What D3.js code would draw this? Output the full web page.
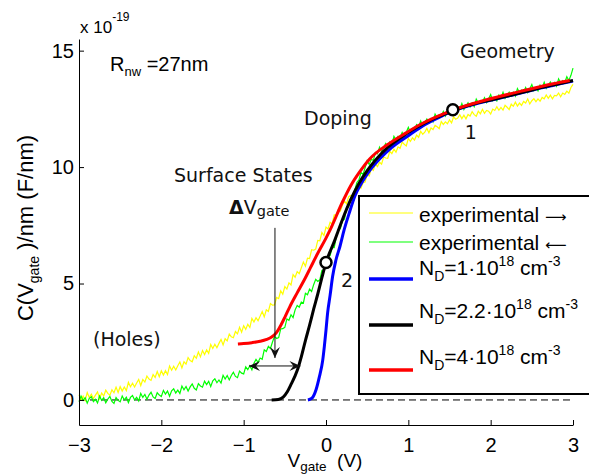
<!DOCTYPE html>
<html><head><meta charset="utf-8">
<script src="https://cdn.jsdelivr.net/npm/d3@7"></script>
<style>
html,body{margin:0;padding:0;background:#fff;}
svg{display:block;}
.hv{font-family:"Liberation Sans",Arial,Helvetica,sans-serif;}
.dj{font-family:"DejaVu Sans",sans-serif;}
</style></head>
<body><svg id="chart" width="589" height="475"></svg>
<script>
// ---------------- data ----------------
const xTicks = [-3, -2, -1, 0, 1, 2, 3];
const yTicks = [0, 5, 10, 15];

// experimental sweeps, sampled every 0.025 V from -3 V to 3 V (units 1e-19 F/nm)
const sweepStart = -3, sweepStep = 0.025;
const expForward = [
  0.22,0.01,0.17,-0.02, 0.32,0.11,0.25,0.06, 0.21,0.35,0.06,0.30, 0.17,0.42,0.28,0.20, 0.44,0.31,0.55,0.32,
  0.57,0.38,0.56,0.40, 0.76,0.57,0.72,0.56, 0.73,0.88,0.62,0.88, 0.77,1.03,0.90,0.84, 1.09,0.97,1.22,1.00,
  1.25,1.07,1.26,1.09, 1.46,1.28,1.45,1.29, 1.47,1.63,1.38,1.64, 1.54,1.82,1.69,1.64, 1.90,1.79,2.06,1.85,
  2.12,1.95,2.15,2.00, 2.38,2.21,2.39,2.24, 2.43,2.60,2.36,2.63, 2.54,2.83,2.71,2.67, 2.94,2.84,3.12,2.91,
  3.19,3.03,3.25,3.11, 3.50,3.35,3.53,3.40, 3.60,3.80,3.57,3.87, 3.80,4.14,4.07,4.08, 4.40,4.35,4.69,4.54,
  4.87,4.76,5.03,4.94, 5.38,5.27,5.51,5.42, 5.67,5.92,5.74,6.09, 6.07,6.45,6.43,6.48, 6.85,6.83,7.19,7.06,
  7.42,7.34,7.63,7.56, 7.95,7.94,8.18,8.11, 8.37,8.54,8.42,8.73, 8.78,8.75,9.02,8.89, 9.20,9.10,9.33,9.36,
  9.69,9.62,9.94,9.86, 10.13,10.02,10.21,10.13, 10.43,10.39,10.38,10.68, 10.58,10.77,10.64,10.87, 10.81,11.07,10.98,10.91,
  11.23,11.10,11.26,11.16, 11.37,11.28,11.54,11.41, 11.50,11.66,11.47,11.68, 11.61,11.79,11.73,11.65, 11.95,11.83,11.94,11.86,
  12.03,11.90,12.16,12.05, 12.10,12.25,12.08,12.23, 12.07,12.26,12.19,12.38, 12.25,12.18,12.40,12.29, 12.48,12.31,12.43,12.40,
  12.28,12.49,12.43,12.59, 12.44,12.56,12.45,12.65, 12.57,12.47,12.70,12.61, 12.79,12.62,12.75,12.65, 12.82,12.75,12.93,12.71,
  12.85,12.94,12.81,12.93, 12.83,12.99,12.93,13.10, 12.95,13.09,12.93,13.08, 13.06,13.18,13.02,13.18, 13.12,13.26,13.17,13.42,
  13.55];
const expReverse = [
  -0.07,0.17,-0.02,0.10, -0.14,0.07,0.14,-0.07, 0.03,-0.13,0.17,-0.02, 0.10,-0.12,0.04,0.15, -0.06,-0.15,0.10,-0.02,
  -0.08,0.17,0.00,0.12, -0.11,0.11,0.19,0.00, 0.11,-0.04,0.28,0.11, 0.24,0.03,0.21,0.33, 0.13,0.06,0.31,0.21,
  0.15,0.41,0.25,0.38, 0.16,0.39,0.48,0.30, 0.42,0.28,0.60,0.44, 0.58,0.38,0.56,0.69, 0.50,0.43,0.70,0.60,
  0.55,0.81,0.66,0.80, 0.58,0.82,0.91,0.74, 0.86,0.73,1.06,0.90, 1.05,0.86,1.05,1.19, 1.01,0.96,1.24,1.15,
  1.12,1.42,1.30,1.47, 1.29,1.58,1.74,1.62, 1.80,1.75,2.15,2.08, 2.30,2.21,2.49,2.73, 2.64,2.68,3.05,3.06,
  3.12,3.48,3.42,3.66, 3.54,3.87,4.06,3.98, 4.20,4.16,4.58,4.52, 4.76,4.66,4.95,5.18, 5.09,5.16,5.56,5.59,
  5.68,6.15,6.20,6.55, 6.54,7.00,7.31,7.36, 7.70,7.76,8.28,8.31, 8.65,8.64,9.02,9.34, 9.45,9.77,9.68,9.97,
  10.28,10.11,10.33,10.29, 10.63,10.57,10.85,10.65, 10.83,11.01,10.88,11.08, 10.96,11.32,11.17,11.32, 11.27,11.49,11.31,11.50,
  11.71,11.48,11.64,11.54, 11.82,11.73,11.98,11.75, 11.90,12.06,11.90,12.08, 11.94,12.28,12.12,12.24, 12.18,12.39,12.19,12.37,
  12.57,12.32,12.46,12.34, 12.60,12.49,12.73,12.47, 12.61,12.76,12.58,12.75, 12.59,12.92,12.75,12.86, 12.79,12.98,12.77,12.93,
  13.11,12.85,12.97,12.84, 13.09,12.97,13.21,12.95, 13.08,13.22,13.05,13.21, 13.05,13.37,13.20,13.31, 13.23,13.42,13.20,13.36,
  13.54,13.28,13.40,13.27, 13.52,13.40,13.64,13.38, 13.51,13.65,13.47,13.63, 13.47,13.79,13.61,13.71, 13.63,13.88,13.72,13.94,
  14.25];

// simulations
const nd1V = [-0.22,-0.17,-0.12,-0.08,-0.04,-0.02,0.00,0.02,0.05,0.08,0.12,0.17,0.22,0.28,0.35,0.43,0.53,0.65,0.80,1.00,1.20,1.40,1.55,1.80,2.00,2.20,2.40,2.60,2.80,3.00];
const nd1C = [0.00,0.08,0.45,1.00,1.70,2.30,3.00,3.75,4.50,5.30,6.00,6.60,7.30,8.00,8.75,9.30,9.85,10.35,10.85,11.35,11.82,12.18,12.42,12.70,12.87,13.04,13.21,13.39,13.55,13.70];
const nd22V = [-0.66,-0.58,-0.52,-0.47,-0.42,-0.38,-0.34,-0.30,-0.25,-0.20,-0.15,-0.10,-0.05,0.00,0.10,0.20,0.30,0.40,0.50,0.60,0.75,0.90,1.05,1.20,1.40,1.55,1.80,2.00,2.20,2.40,2.60,2.80,3.00];
const nd22C = [0.00,0.02,0.12,0.35,0.70,1.00,1.36,1.85,2.55,3.20,3.90,4.55,5.25,5.90,6.80,7.75,8.60,9.30,9.85,10.30,10.85,11.25,11.60,11.90,12.22,12.44,12.72,12.88,13.05,13.22,13.40,13.56,13.72];
const nd4V = [-1.07,-1.00,-0.90,-0.80,-0.72,-0.66,-0.60,-0.55,-0.50,-0.44,-0.35,-0.25,-0.19,-0.10,0.00,0.05,0.20,0.30,0.40,0.53,0.74,0.94,1.14,1.55,1.95,2.36,2.76,2.96];
const nd4C = [2.40,2.42,2.46,2.52,2.60,2.70,2.90,3.20,3.55,4.00,4.60,5.25,5.67,6.30,6.95,7.30,8.50,9.20,9.75,10.35,10.95,11.40,11.82,12.46,12.89,13.25,13.58,13.72];

// marked operating points
const pointV = [1.54, 0.00];
const pointC = [12.46, 5.90];
const pointLabels = ["1", "2"];

// legend
const legendNames = ["experimental", "experimental", "1", "2.2", "4"];
const legendArrows = ["\u27F6", "\u27F5"];
const legendColors = ["#ffff00", "#00ff00", "#0000ff", "#000000", "#ff0000"];

// ---------------- chart ----------------
const svg = d3.select("#chart");
const x = d3.scaleLinear().domain([-3, 3]).range([79, 573]);
const y = d3.scaleLinear().domain([-1.075, 15.5]).range([425, 39]);

const fwd = expForward.map((c, i) => [sweepStart + i * sweepStep, c]);
const rev = expReverse.map((c, i) => [sweepStart + i * sweepStep, c]);
const sim = (vs, cs) => vs.map((v, i) => [v, cs[i]]);

const lineLin = d3.line().x(d => x(d[0])).y(d => y(d[1]));
const lineSmooth = d3.line().x(d => x(d[0])).y(d => y(d[1])).curve(d3.curveMonotoneX);

// zero dashed line
svg.append("line").attr("x1", x(-3)).attr("x2", x(3)).attr("y1", y(0)).attr("y2", y(0))
  .attr("stroke", "#000").attr("stroke-width", 1).attr("stroke-dasharray", "7,4");

// experimental
svg.append("path").datum(fwd).attr("d", lineLin).attr("fill", "none").attr("stroke", legendColors[0]).attr("stroke-width", 1.2);
svg.append("path").datum(rev).attr("d", lineLin).attr("fill", "none").attr("stroke", legendColors[1]).attr("stroke-width", 1.2);

// simulations
[[nd1V, nd1C, 2], [nd22V, nd22C, 3], [nd4V, nd4C, 4]].forEach(([vs, cs, k]) => {
  svg.append("path").datum(sim(vs, cs)).attr("d", lineSmooth).attr("fill", "none")
    .attr("stroke", legendColors[k]).attr("stroke-width", 3).attr("stroke-linejoin", "round");
});

// axes
const fmt = d => d < 0 ? "\u2212" + Math.abs(d) : String(d);
const gx = svg.append("g").attr("transform", `translate(0,${y.range()[0]})`)
  .call(d3.axisBottom(x).tickValues(xTicks).tickFormat(fmt).tickSizeInner(-5).tickSizeOuter(0).tickPadding(13));
const gy = svg.append("g").attr("transform", `translate(${x.range()[0]},0)`)
  .call(d3.axisLeft(y).tickValues(yTicks).tickSizeInner(-5).tickSizeOuter(0).tickPadding(5));
[gx, gy].forEach(g => {
  g.selectAll("text").attr("class", "hv").style("font-size", "20px").attr("fill", "#000").attr("font-family", null);
  g.selectAll("path,line").attr("stroke", "#000");
});

// exponent
const ex = svg.append("text").attr("class", "hv").attr("x", 80).attr("y", 33).style("font-size", "17px");
ex.append("tspan").text("x 10");
ex.append("tspan").attr("dy", -12).style("font-size", "12px").text("-19");

// axis labels
const xl = svg.append("text").attr("class", "hv").attr("x", 325).attr("y", 467)
  .attr("text-anchor", "middle").style("font-size", "19px");
xl.append("tspan").text("V");
xl.append("tspan").attr("dy", 4).style("font-size", "13.5px").text("gate");
xl.append("tspan").attr("dy", -4).text("\u00a0\u00a0(V)");

const yl = svg.append("text").attr("class", "hv").attr("transform", "translate(33,228) rotate(-90)")
  .attr("text-anchor", "middle").style("font-size", "22px");
yl.append("tspan").text("C(V");
yl.append("tspan").attr("dy", 6).style("font-size", "14px").text("gate");
yl.append("tspan").attr("dy", -6).text("\u00a0)/nm (F/nm)");

// R_nw
const rt = svg.append("text").attr("class", "hv").attr("x", 110).attr("y", 71).style("font-size", "20px");
rt.append("tspan").text("R");
rt.append("tspan").attr("dy", 5).style("font-size", "13px").text("nw");
rt.append("tspan").attr("dy", -5).text("\u00a0=27nm");

// annotations
const ann = [["Geometry", 460, 58], ["Doping", 304, 125], ["Surface States", 174, 182], ["(Holes)", 93, 346]];
ann.forEach(([t, ax, ay]) => svg.append("text").attr("class", "dj").attr("x", ax).attr("y", ay)
  .style("font-size", "19px").attr("fill", "#111").text(t));

const dv = svg.append("text").attr("class", "dj").attr("x", 229).attr("y", 214).style("font-size", "19px").attr("fill", "#111");
dv.append("tspan").attr("font-weight", "bold").text("\u0394");
dv.append("tspan").text("V");
dv.append("tspan").attr("dy", 2).style("font-size", "14.5px").text("gate");

// arrows
const defs = svg.append("defs");
defs.append("marker").attr("id", "ah").attr("viewBox", "-12 -6 13 12").attr("refX", 0).attr("refY", 0)
  .attr("markerWidth", 13).attr("markerHeight", 12).attr("markerUnits", "userSpaceOnUse").attr("orient", "auto-start-reverse")
  .append("path").attr("d", "M0,0 L-11,-5 L-7,0 L-11,5 Z").attr("fill", "#111");
svg.append("line").attr("x1", x(-0.62)).attr("x2", x(-0.62)).attr("y1", y(7.39)).attr("y2", y(1.8))
  .attr("stroke", "#111").attr("stroke-width", 1).attr("marker-end", "url(#ah)");
svg.append("line").attr("x1", x(-0.935)).attr("x2", x(-0.31)).attr("y1", y(1.46)).attr("y2", y(1.46))
  .attr("stroke", "#111").attr("stroke-width", 1).attr("marker-start", "url(#ah)").attr("marker-end", "url(#ah)");

// points
pointV.forEach((v, i) => {
  svg.append("circle").attr("cx", x(v)).attr("cy", y(pointC[i])).attr("r", 5.5)
    .attr("fill", "#fff").attr("stroke", "#000").attr("stroke-width", 2.5);
});
svg.append("text").attr("class", "dj").attr("x", x(pointV[0]) + 12).attr("y", y(pointC[0]) + 29)
  .style("font-size", "19px").attr("fill", "#111").text(pointLabels[0]);
svg.append("text").attr("class", "dj").attr("x", x(pointV[1]) + 15).attr("y", y(pointC[1]) + 24)
  .style("font-size", "19px").attr("fill", "#111").text(pointLabels[1]);

// legend
svg.append("rect").attr("x", 359).attr("y", 196).attr("width", 240).attr("height", 198)
  .attr("fill", "#fff").attr("stroke", "#000").attr("stroke-width", 2);
const lineY = [213, 242, 279, 325, 370];
const textY = [222, 250, 275, 318, 364];
legendNames.forEach((name, i) => {
  svg.append("line").attr("x1", 369).attr("x2", 413).attr("y1", lineY[i]).attr("y2", lineY[i])
    .attr("stroke", legendColors[i]).attr("stroke-width", i < 2 ? 1.2 : 3.5);
  const t = svg.append("text").attr("class", "hv").attr("x", 419).attr("y", textY[i]).style("font-size", "21px");
  if (i < 2) {
    t.append("tspan").text(name + "\u00a0");
    t.append("tspan").style("font-family", "'DejaVu Sans',sans-serif").style("font-size", "15px").text(legendArrows[i]);
  } else {
    t.append("tspan").text("N");
    t.append("tspan").attr("dy", 6).style("font-size", "14px").text("D");
    t.append("tspan").attr("dy", -6).text("=" + name + "\u00b710");
    t.append("tspan").attr("dy", -9).style("font-size", "14px").text("18");
    t.append("tspan").attr("dy", 9).text("\u00a0cm");
    t.append("tspan").attr("dy", -9).style("font-size", "14px").text("-3");
  }
});
</script></body></html>
